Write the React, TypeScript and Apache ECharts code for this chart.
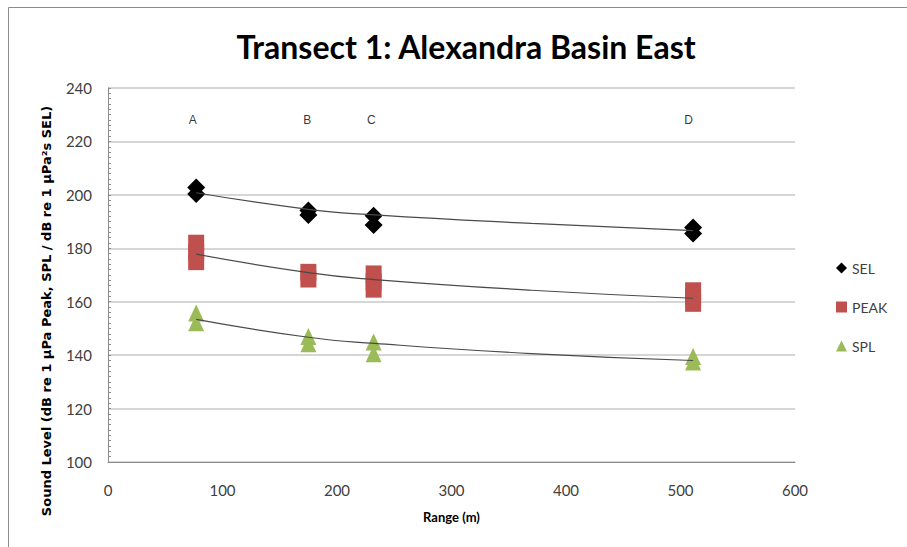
import React, { useEffect, useRef } from "react";
import * as echarts from "echarts";

// Measurements (range in m, level in dB)
const selRange = [77, 77, 175, 175, 232, 232, 511, 511];
const selLevel = [200.3, 202.8, 192.5, 194.1, 188.7, 192.2, 185.5, 187.8];

const peakRange = [77, 77, 77, 175, 175, 232, 232, 232, 511, 511, 511];
const peakLevel = [175.0, 178.5, 181.9, 168.5, 171.0, 164.7, 167.5, 170.4, 159.4, 161.8, 164.1];

const splRange = [77, 77, 175, 175, 232, 232, 511, 511];
const splLevel = [152.1, 155.8, 144.3, 147.0, 140.5, 144.9, 137.4, 139.5];

// Trend lines
const trendRange = [77, 175, 233, 370, 511];
const selTrend = [200.8, 194.6, 192.5, 189.3, 186.6];
const peakTrend = [177.8, 170.9, 168.3, 164.3, 161.3];
const splTrend = [153.4, 146.7, 144.4, 140.6, 138.0];

// Site labels
const siteNames = ["A", "B", "C", "D"];
const siteRange = [74, 174, 230, 507];
const siteLevel = 228;

const xTicks = { min: 0, max: 600, interval: 100 };
const yTicks = { min: 100, max: 240, interval: 20 };

const zip = (xs: number[], ys: number[]) => xs.map((x, i) => [x, ys[i]]);

export default function App() {
  const ref = useRef<HTMLDivElement>(null);
  useEffect(() => {
    if (!ref.current) return;
    const chart = echarts.init(ref.current, undefined, { renderer: "svg" });
    const font = "Lato, 'Open Sans', sans-serif";
    const trendStyle = { color: "#4a4a4a", width: 1.2 };
    const trendCommon = {
      type: "line",
      smooth: true,
      showSymbol: false,
      lineStyle: trendStyle,
      z: 5,
    };
    const option: any = {
      animation: false,
      backgroundColor: "#ffffff",
      title: {
        text: "Transect 1: Alexandra Basin East",
        left: 461,
        top: 25,
        textAlign: "center",
        textStyle: {
          fontFamily: font,
          fontWeight: "bold",
          fontSize: 32,
          color: "#000",
        },
      },
      graphic: [
        {
          type: "rect",
          shape: { x: 8.5, y: 7.5, width: 1000, height: 1000 },
          style: { fill: "none", stroke: "#8c8c8c", lineWidth: 1 },
          silent: true,
        },
        {
          type: "text",
          x: 46,
          y: 311,
          rotation: Math.PI / 2,
          style: {
            text: "Sound Level (dB re 1 µPa Peak, SPL / dB re 1 µPa²s SEL)",
            fontFamily: "'DejaVu Sans', sans-serif",
            fontWeight: "bold",
            fontSize: 13,
            fill: "#000",
            textAlign: "center",
            textVerticalAlign: "middle",
          },
        },
      ],
      legend: {
        orient: "vertical",
        left: 836,
        top: 261,
        itemGap: 25,
        itemWidth: 11,
        itemHeight: 11,
        padding: 0,
        textStyle: { fontFamily: font, fontSize: 14, color: "#404040", lineHeight: 14 },
        data: [
          { name: "SEL", icon: "diamond" },
          { name: "PEAK", icon: "rect" },
          { name: "SPL", icon: "triangle" },
        ],
      },
      grid: { left: 108, right: 112, top: 88, bottom: 85 },
      xAxis: {
        type: "value",
        ...xTicks,
        axisLine: { show: true, lineStyle: { color: "#8c8c8c", width: 1 } },
        axisTick: { show: false },
        splitLine: { show: false },
        axisLabel: { margin: 20, fontFamily: font, fontSize: 15, color: "#404040" },
        name: "Range (m)",
        nameLocation: "middle",
        nameGap: 48,
        nameTextStyle: { fontFamily: font, fontWeight: "bold", fontSize: 13, color: "#000" },
      },
      yAxis: {
        type: "value",
        ...yTicks,
        axisLine: { show: true, lineStyle: { color: "#8c8c8c", width: 1 } },
        axisTick: { show: true, inside: true, length: 3, lineStyle: { color: "#8c8c8c" } },
        minorTick: { show: true, splitNumber: 10, length: 3, lineStyle: { color: "#8c8c8c" } },
        splitLine: { show: true, lineStyle: { color: "#c8c8c8", width: 1.5 } },
        axisLabel: { margin: 16, fontFamily: font, fontSize: 15, color: "#404040" },
      },
      series: [
        {
          name: "SEL",
          type: "scatter",
          symbol: "diamond",
          symbolSize: [18, 18],
          itemStyle: { color: "#000000", opacity: 1 },
          data: zip(selRange, selLevel),
        },
        {
          name: "PEAK",
          type: "scatter",
          symbol: "rect",
          symbolSize: [16, 17],
          itemStyle: { color: "#c0504d", opacity: 1 },
          data: zip(peakRange, peakLevel),
        },
        {
          name: "SPL",
          type: "scatter",
          symbol: "triangle",
          symbolSize: [16, 17],
          itemStyle: { color: "#9bbb59", opacity: 1 },
          data: zip(splRange, splLevel),
        },
        { ...trendCommon, name: "SEL trend", data: zip(trendRange, selTrend) },
        { ...trendCommon, name: "PEAK trend", data: zip(trendRange, peakTrend) },
        { ...trendCommon, name: "SPL trend", data: zip(trendRange, splTrend) },
        {
          name: "Sites",
          type: "scatter",
          symbolSize: 1,
          itemStyle: { color: "rgba(0,0,0,0)" },
          label: {
            show: true,
            position: "inside",
            formatter: (p: any) => siteNames[p.dataIndex],
            fontFamily: "'Liberation Sans', Arial, sans-serif",
            fontSize: 12,
            color: "#000",
          },
          data: siteRange.map((x) => [x, siteLevel]),
        },
      ],
    };
    chart.setOption(option);
    return () => chart.dispose();
  }, []);
  return (
    <div
      ref={ref}
      style={{ position: "fixed", left: 0, top: 0, width: 907, height: 547 }}
    />
  );
}
